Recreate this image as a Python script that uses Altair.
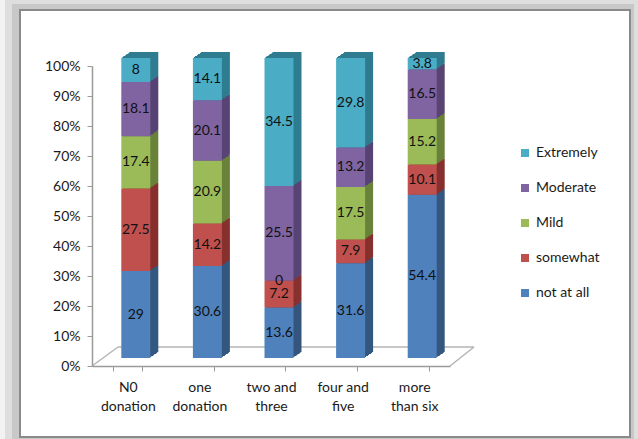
import altair as alt
import pandas as pd

# Response categories by number of donations (values in percent)
categories = ["N0\ndonation", "one\ndonation", "two and\nthree", "four and\nfive", "more\nthan six"]
series = ["not at all", "somewhat", "Mild", "Moderate", "Extremely"]
not_at_all = [29, 30.6, 13.6, 31.6, 54.4]
somewhat = [27.5, 14.2, 7.2, 7.9, 10.1]
mild = [17.4, 20.9, 0, 17.5, 15.2]
moderate = [18.1, 20.1, 25.5, 13.2, 16.5]
extremely = [8, 14.1, 34.5, 29.8, 3.8]

front_colors = ["#4f81bd", "#c0504d", "#9bbb59", "#8064a2", "#4bacc6"]
side_colors = ["#34577f", "#87302e", "#6a823a", "#584474", "#2f7c90"]

values_by_series = [not_at_all, somewhat, mild, moderate, extremely]
rows = []
for j, (name, vals) in enumerate(zip(series, values_by_series)):
    for cat, v in zip(categories, vals):
        rows.append({"category": cat, "series": name, "value": v, "order": j})
df = pd.DataFrame(rows)

W, H = 358, 300
FONT = "Lato"
TXT = "#1a1a1a"
AX = "#9a9a9a"
DX, DY = 8, -8  # front-face shift of the 3D bars

legend_order = series[::-1]
legend_colors = front_colors[::-1]

# darker shade for the side faces, looked up per series
side_lookup = "{" + ", ".join(f"'{s}': '{c}'" for s, c in zip(series, side_colors)) + "}"

base = alt.Chart(df).transform_stack(
    stack="value",
    groupby=["category"],
    as_=["y0", "y1"],
    offset="normalize",
    sort=[alt.SortField("order", order="ascending")],
).transform_calculate(
    mid="(datum.y0 + datum.y1) / 2",
    side=f"{side_lookup}[datum.series]",
)

x_scale = alt.Scale(paddingInner=0.595, paddingOuter=0.2975)
y_scale = alt.Scale(domain=[0, 1], nice=False)

x_axis = alt.Axis(
    title=None,
    labelExpr="split(datum.label, '\\n')",
    labelAngle=0,
    labelAlign="center",
    labelFontSize=14,
    labelColor=TXT,
    labelLineHeight=19,
    labelPadding=9,
    tickBand="extent",
    tickSize=5,
    tickColor=AX,
    domainColor=AX,
    domainWidth=1.5,
    zindex=1,
)
y_axis = alt.Axis(
    title=None,
    format=".0%",
    values=[i / 10 for i in range(11)],
    labelOverlap=False,
    grid=False,
    labelFontSize=14,
    labelColor=TXT,
    labelPadding=7,
    tickSize=5,
    tickColor=AX,
    domainColor=AX,
    domainWidth=1.5,
    zindex=1,
)

x_enc = alt.X("category:N", sort=categories, scale=x_scale, axis=x_axis)


def y_of(field):
    return alt.Y(f"{field}:Q", scale=y_scale, axis=y_axis)


# Depth of each bar: stacked copies shifted up and to the right
sides = []
for k in range(8, 0, -1):
    dy = round(0.75 * k)
    sides.append(
        base.mark_bar(xOffset=DX + k, yOffset=DY - dy, y2Offset=DY - dy).encode(
            x=x_enc,
            y=y_of("y0"),
            y2="y1:Q",
            fill=alt.Fill("side:N", scale=None),
        )
    )

front = base.mark_bar(xOffset=DX, yOffset=DY, y2Offset=DY).encode(
    x=x_enc,
    y=y_of("y0"),
    y2="y1:Q",
    color=alt.Color(
        "series:N",
        scale=alt.Scale(domain=legend_order, range=legend_colors),
        legend=alt.Legend(
            title=None,
            orient="none",
            legendX=426,
            legendY=80,
            padding=0,
            symbolType="square",
            symbolSize=64,
            symbolStrokeWidth=0,
            labelFontSize=14,
            labelColor=TXT,
            labelOffset=4,
            rowPadding=21,
        ),
    ),
)

labels = base.mark_text(xOffset=DX, yOffset=DY, fontSize=14, color="#111111", font=FONT).encode(
    x=x_enc,
    y=y_of("mid"),
    text=alt.Text("value:Q", format=".3~g"),
)

dummy = alt.Chart(pd.DataFrame({"a": [0]}))

# Panel frame with a soft shadow
shadow_outer = dummy.mark_rect(fill="#dedede").encode(
    x=alt.value(-87), x2=alt.value(546), y=alt.value(-66), y2=alt.value(373)
)
shadow_inner = dummy.mark_rect(fill="#c8c8c8").encode(
    x=alt.value(-80), x2=alt.value(542), y=alt.value(-62), y2=alt.value(373)
)
frame = dummy.mark_rect(fill="white", stroke="#8a8a8a", strokeWidth=2).encode(
    x=alt.value(-72), x2=alt.value(538), y=alt.value(-56), y2=alt.value(371)
)

# Floor of the 3D plot
floor_style = dict(color="#b4b4b4", strokeWidth=1.5)
floor_back = dummy.mark_rule(**floor_style).encode(
    x=alt.value(26), x2=alt.value(382), y=alt.value(281), y2=alt.value(281)
)
floor_left = dummy.mark_rule(**floor_style).encode(
    x=alt.value(0), x2=alt.value(26), y=alt.value(300), y2=alt.value(281)
)
floor_right = dummy.mark_rule(**floor_style).encode(
    x=alt.value(W), x2=alt.value(382), y=alt.value(300), y2=alt.value(281)
)

chart = alt.layer(
    shadow_outer, shadow_inner, frame, floor_back, floor_left, floor_right,
    *sides, front, labels,
).properties(
    width=W,
    height=H,
    autosize=alt.AutoSizeParams(type="none"),
    padding={"left": 92, "top": 66, "right": 638 - 92 - W, "bottom": 439 - 66 - H},
    background="#f2f2f2",
).configure_view(stroke=None).configure(font=FONT)

chart.save("out.html", embed_options={"renderer": "svg", "actions": False})
